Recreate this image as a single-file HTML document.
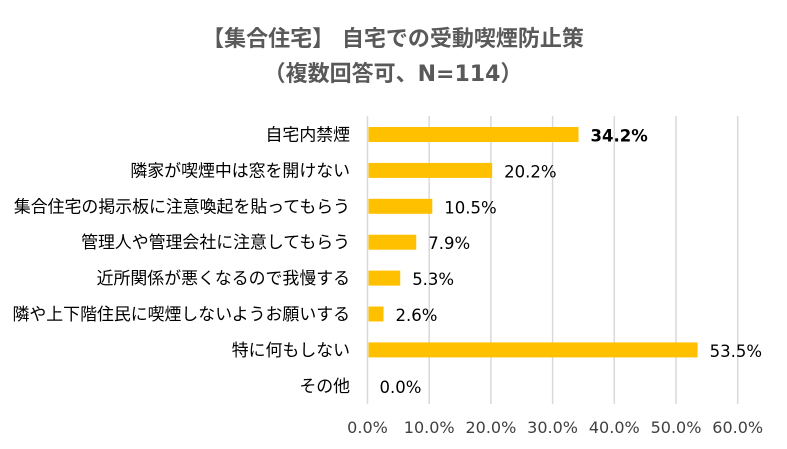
<!DOCTYPE html>
<html><head><meta charset="utf-8"><style>
body{margin:0;background:#fff;}
svg{display:block;font-family:"DejaVu Sans","Noto Sans CJK JP",sans-serif;}
</style></head><body>
<svg width="787" height="449" viewBox="0 0 787 449">
<text x="393" y="46" text-anchor="middle" font-size="22" font-weight="bold" fill="#595959">【集合住宅】 自宅での受動喫煙防止策</text>
<text x="393" y="81" text-anchor="middle" font-size="22" font-weight="bold" fill="#595959">（複数回答可、N=114）</text>
<g id="grid"></g><g id="bars"></g><g id="labels"></g><g id="ticks"></g>
</svg>
<script>
const categories=["自宅内禁煙","隣家が喫煙中は窓を開けない","集合住宅の掲示板に注意喚起を貼ってもらう","管理人や管理会社に注意してもらう","近所関係が悪くなるので我慢する","隣や上下階住民に喫煙しないようお願いする","特に何もしない","その他"];
const values=[34.2,20.2,10.5,7.9,5.3,2.6,53.5,0.0];
const ticks=[0,10,20,30,40,50,60];
const ns="http://www.w3.org/2000/svg";
const x=v=>367.5+v*6.17;
const y=i=>134.5+i*35.9;
function mk(t,p,a){const e=document.createElementNS(ns,t);for(const k in a)e.setAttribute(k,a[k]);p.appendChild(e);return e;}
const G=document.getElementById('grid'),B=document.getElementById('bars'),L=document.getElementById('labels'),T=document.getElementById('ticks');
ticks.forEach(t=>{
 const l=mk('line',G,{x1:x(t),x2:x(t),y1:116,y2:404,stroke:'#d9d9d9','stroke-width':1.5});
 
 
 const tx=mk('text',T,{x:x(t),y:433,'text-anchor':'middle','font-size':16,fill:'#404040'});
 tx.textContent=t.toFixed(1)+'%';
 
 
});
categories.forEach((c,i)=>{
 const r=mk('rect',B,{x:x(0)+1,y:y(i)-7.5,width:Math.max(0,x(values[i])-x(0)-1),height:15,fill:'#FFC000'});
 
 
 const cl=mk('text',L,{x:350,y:y(i)+6,'text-anchor':'end','font-size':16.9,fill:'#000'});
 cl.textContent=c;
 
 
 const vl=mk('text',L,{x:x(values[i])+12,y:y(i)+7,'font-size':16.5,fill:'#000','font-weight':i===0?'bold':'normal'});
 vl.textContent=values[i].toFixed(1)+'%';
 
 
});
</script>
</body></html>
